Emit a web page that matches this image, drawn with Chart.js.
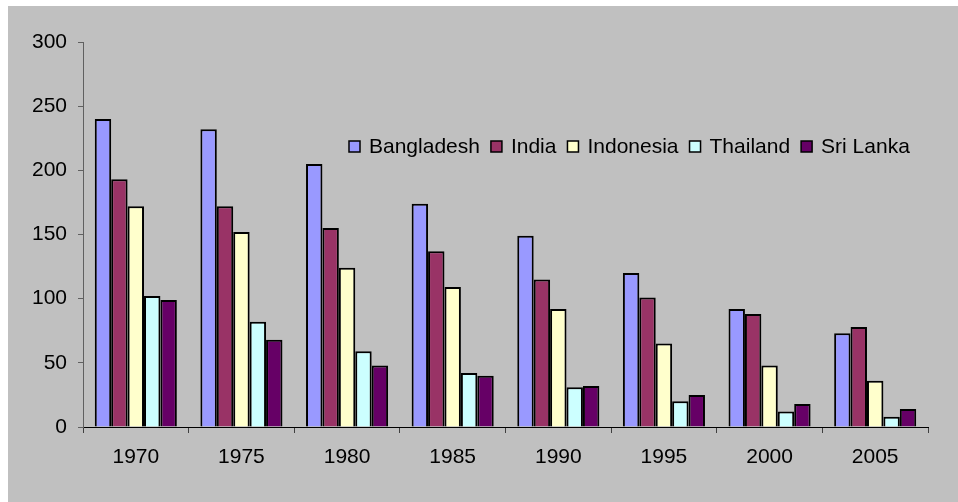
<!DOCTYPE html>
<html>
<head>
<meta charset="utf-8">
<script src="https://cdn.jsdelivr.net/npm/chart.js@4.4.0/dist/chart.umd.min.js"></script>
<style>
  html, body { margin: 0; padding: 0; background: #ffffff; }
  #wrap { position: absolute; left: 8px; top: 6px; width: 950px; height: 496px; background: #c0c0c0; }
</style>
</head>
<body>
<div id="wrap"><canvas id="myChart" width="950" height="496"></canvas></div>
<script>
var years = ["1970", "1975", "1980", "1985", "1990", "1995", "2000", "2005"];
var bangladesh = [240, 232, 205, 174, 149, 120, 92, 73];
var india = [193, 172, 155, 137, 115, 101, 88, 78];
var indonesia = [172, 152, 124, 109, 92, 65, 48, 36];
var thailand = [102, 82, 59, 42, 31, 20, 12, 8];
var sriLanka = [99, 68, 48, 40, 32, 25, 18, 14];
var yTicks = [0, 50, 100, 150, 200, 250, 300];

var FONT = "'Liberation Sans', Arial, sans-serif";

// legend drawn inside the plot, one row
var insideLegend = {
  id: 'insideLegend',
  afterDraw: function (chart) {
    var ctx = chart.ctx;
    var x = 341;
    var y = 141;
    ctx.save();
    ctx.font = "21px " + FONT;
    ctx.textBaseline = 'middle';
    chart.data.datasets.forEach(function (ds) {
      ctx.fillStyle = ds.backgroundColor;
      ctx.fillRect(x, y - 6, 11, 11);
      ctx.lineWidth = 1.5;
      ctx.strokeStyle = '#000000';
      ctx.strokeRect(x, y - 6, 11, 11);
      x += 11 + 9;
      ctx.fillStyle = '#000000';
      ctx.fillText(ds.label, x, y);
      x += ctx.measureText(ds.label).width + 11;
    });
    ctx.restore();
  }
};

function makeSet(label, data, color) {
  return {
    label: label,
    data: data,
    backgroundColor: color,
    borderColor: '#000000',
    borderWidth: 2,
    borderSkipped: 'bottom',
    categoryPercentage: 0.777,
    barPercentage: 1.0
  };
}

var myChart = new Chart(document.getElementById('myChart'), {
  type: 'bar',
  data: {
    labels: years,
    datasets: [
      makeSet('Bangladesh', bangladesh, '#9999ff'),
      makeSet('India', india, '#993366'),
      makeSet('Indonesia', indonesia, '#ffffcc'),
      makeSet('Thailand', thailand, '#ccffff'),
      makeSet('Sri Lanka', sriLanka, '#660066')
    ]
  },
  options: {
    responsive: false,
    animation: false,
    layout: { padding: { left: 0, right: 30, top: 36, bottom: 0 } },
    plugins: {
      legend: { display: false },
      tooltip: { enabled: false }
    },
    scales: {
      x: {
        grid: {
          offset: true,
          drawOnChartArea: false,
          drawTicks: true,
          tickLength: 6,
          color: '#404040'
        },
        border: { color: '#000000', width: 1 },
        ticks: {
          color: '#000000',
          padding: 12,
          maxRotation: 0,
          font: { family: FONT, size: 21 }
        },
        afterFit: function (scale) { scale.height = 75; }
      },
      y: {
        min: 0,
        max: 300,
        afterBuildTicks: function (scale) {
          scale.ticks = yTicks.map(function (v) { return { value: v }; });
        },
        grid: {
          drawOnChartArea: false,
          drawTicks: true,
          tickLength: 5,
          color: '#606060'
        },
        border: { color: '#606060', width: 1 },
        ticks: {
          color: '#000000',
          padding: 11,
          font: { family: FONT, size: 21 }
        },
        afterFit: function (scale) { scale.width = 75; }
      }
    }
  },
  plugins: [insideLegend]
});
</script>
</body>
</html>
